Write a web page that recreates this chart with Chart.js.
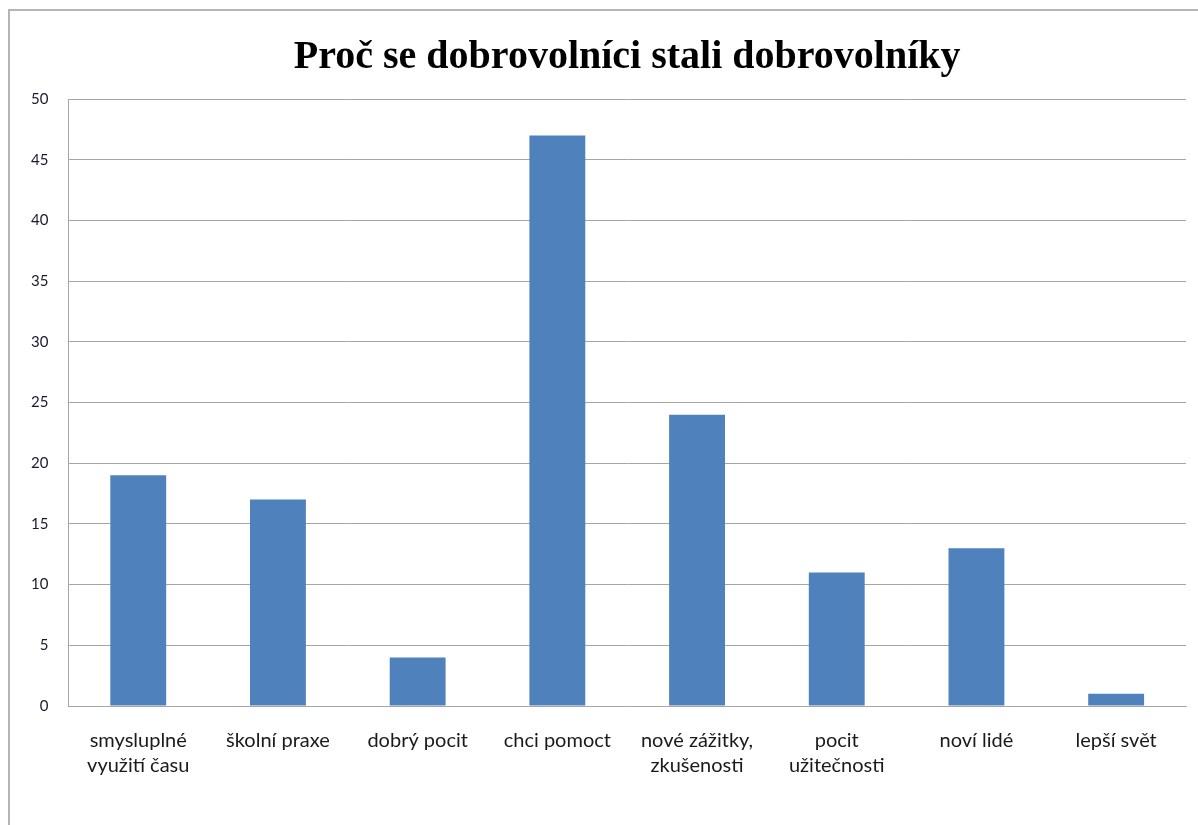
<!DOCTYPE html>
<html>
<head>
<meta charset="utf-8">
<script src="https://cdn.jsdelivr.net/npm/chart.js@4"></script>
<style>
  html, body { margin: 0; padding: 0; background: #fff; overflow: hidden; }
  #frame {
    position: absolute; left: 8px; top: 9px; width: 1300px; height: 900px;
    border-left: 2px solid #b5b5b5; border-top: 2px solid #b5b5b5;
  }
  #wrap { position: absolute; left: 0; top: 0; width: 1198px; height: 825px; }
</style>
</head>
<body>
<div id="frame"></div>
<div id="wrap"><canvas id="reasonsChart"></canvas></div>
<script>
const categories = [
    ['smysluplné', 'využití času'],
    'školní praxe',
    'dobrý pocit',
    'chci pomoct',
    ['nové zážitky,', 'zkušenosti'],
    ['pocit', 'užitečnosti'],
    'noví lidé',
    'lepší svět'
];
const counts = [19, 17, 4, 47, 24, 11, 13, 1];
const yTicks = { min: 0, max: 50, step: 5 };

const reasonsChart = new Chart(document.getElementById('reasonsChart'), {
    type: 'bar',
    data: {
        labels: categories,
        datasets: [{
            label: 'Počet',
            data: counts,
            backgroundColor: '#4f81bd',
            borderWidth: 0,
            barPercentage: 0.4,
            categoryPercentage: 1
        }]
    },
    options: {
        responsive: true,
        maintainAspectRatio: false,
        animation: false,
        layout: {
            padding: { left: 11, right: 12, top: 0, bottom: 25 }
        },
        plugins: {
            legend: { display: false },
            tooltip: { enabled: false },
            title: {
                display: true,
                fullSize: false,  // center over the plot area like the original
                text: 'Proč se dobrovolníci stali dobrovolníky',
                color: '#000',
                font: { family: '"Liberation Serif", "Times New Roman", serif', size: 40, weight: 'bold' },
                padding: { top: 34, bottom: 17 }
            }
        },
        scales: {
            y: {
                min: yTicks.min,
                max: yTicks.max,
                ticks: {
                    stepSize: yTicks.step,
                    color: '#1a1a2e',
                    padding: 20,
                    font: { family: 'Lato, "Open Sans", sans-serif', size: 15 }
                },
                grid: { color: '#a6a6a6', lineWidth: 1, drawTicks: false },
                border: { display: true, color: '#a6a6a6', width: 1 }
            },
            x: {
                ticks: {
                    color: '#1a1a1a',
                    padding: 22,
                    maxRotation: 0,
                    autoSkip: false,
                    font: { family: 'Lato, "Open Sans", sans-serif', size: 20, lineHeight: 1.25 }
                },
                grid: { display: false, drawTicks: false },
                border: { display: true, color: '#a6a6a6', width: 1 }
            }
        }
    }
});
</script>
</body>
</html>
